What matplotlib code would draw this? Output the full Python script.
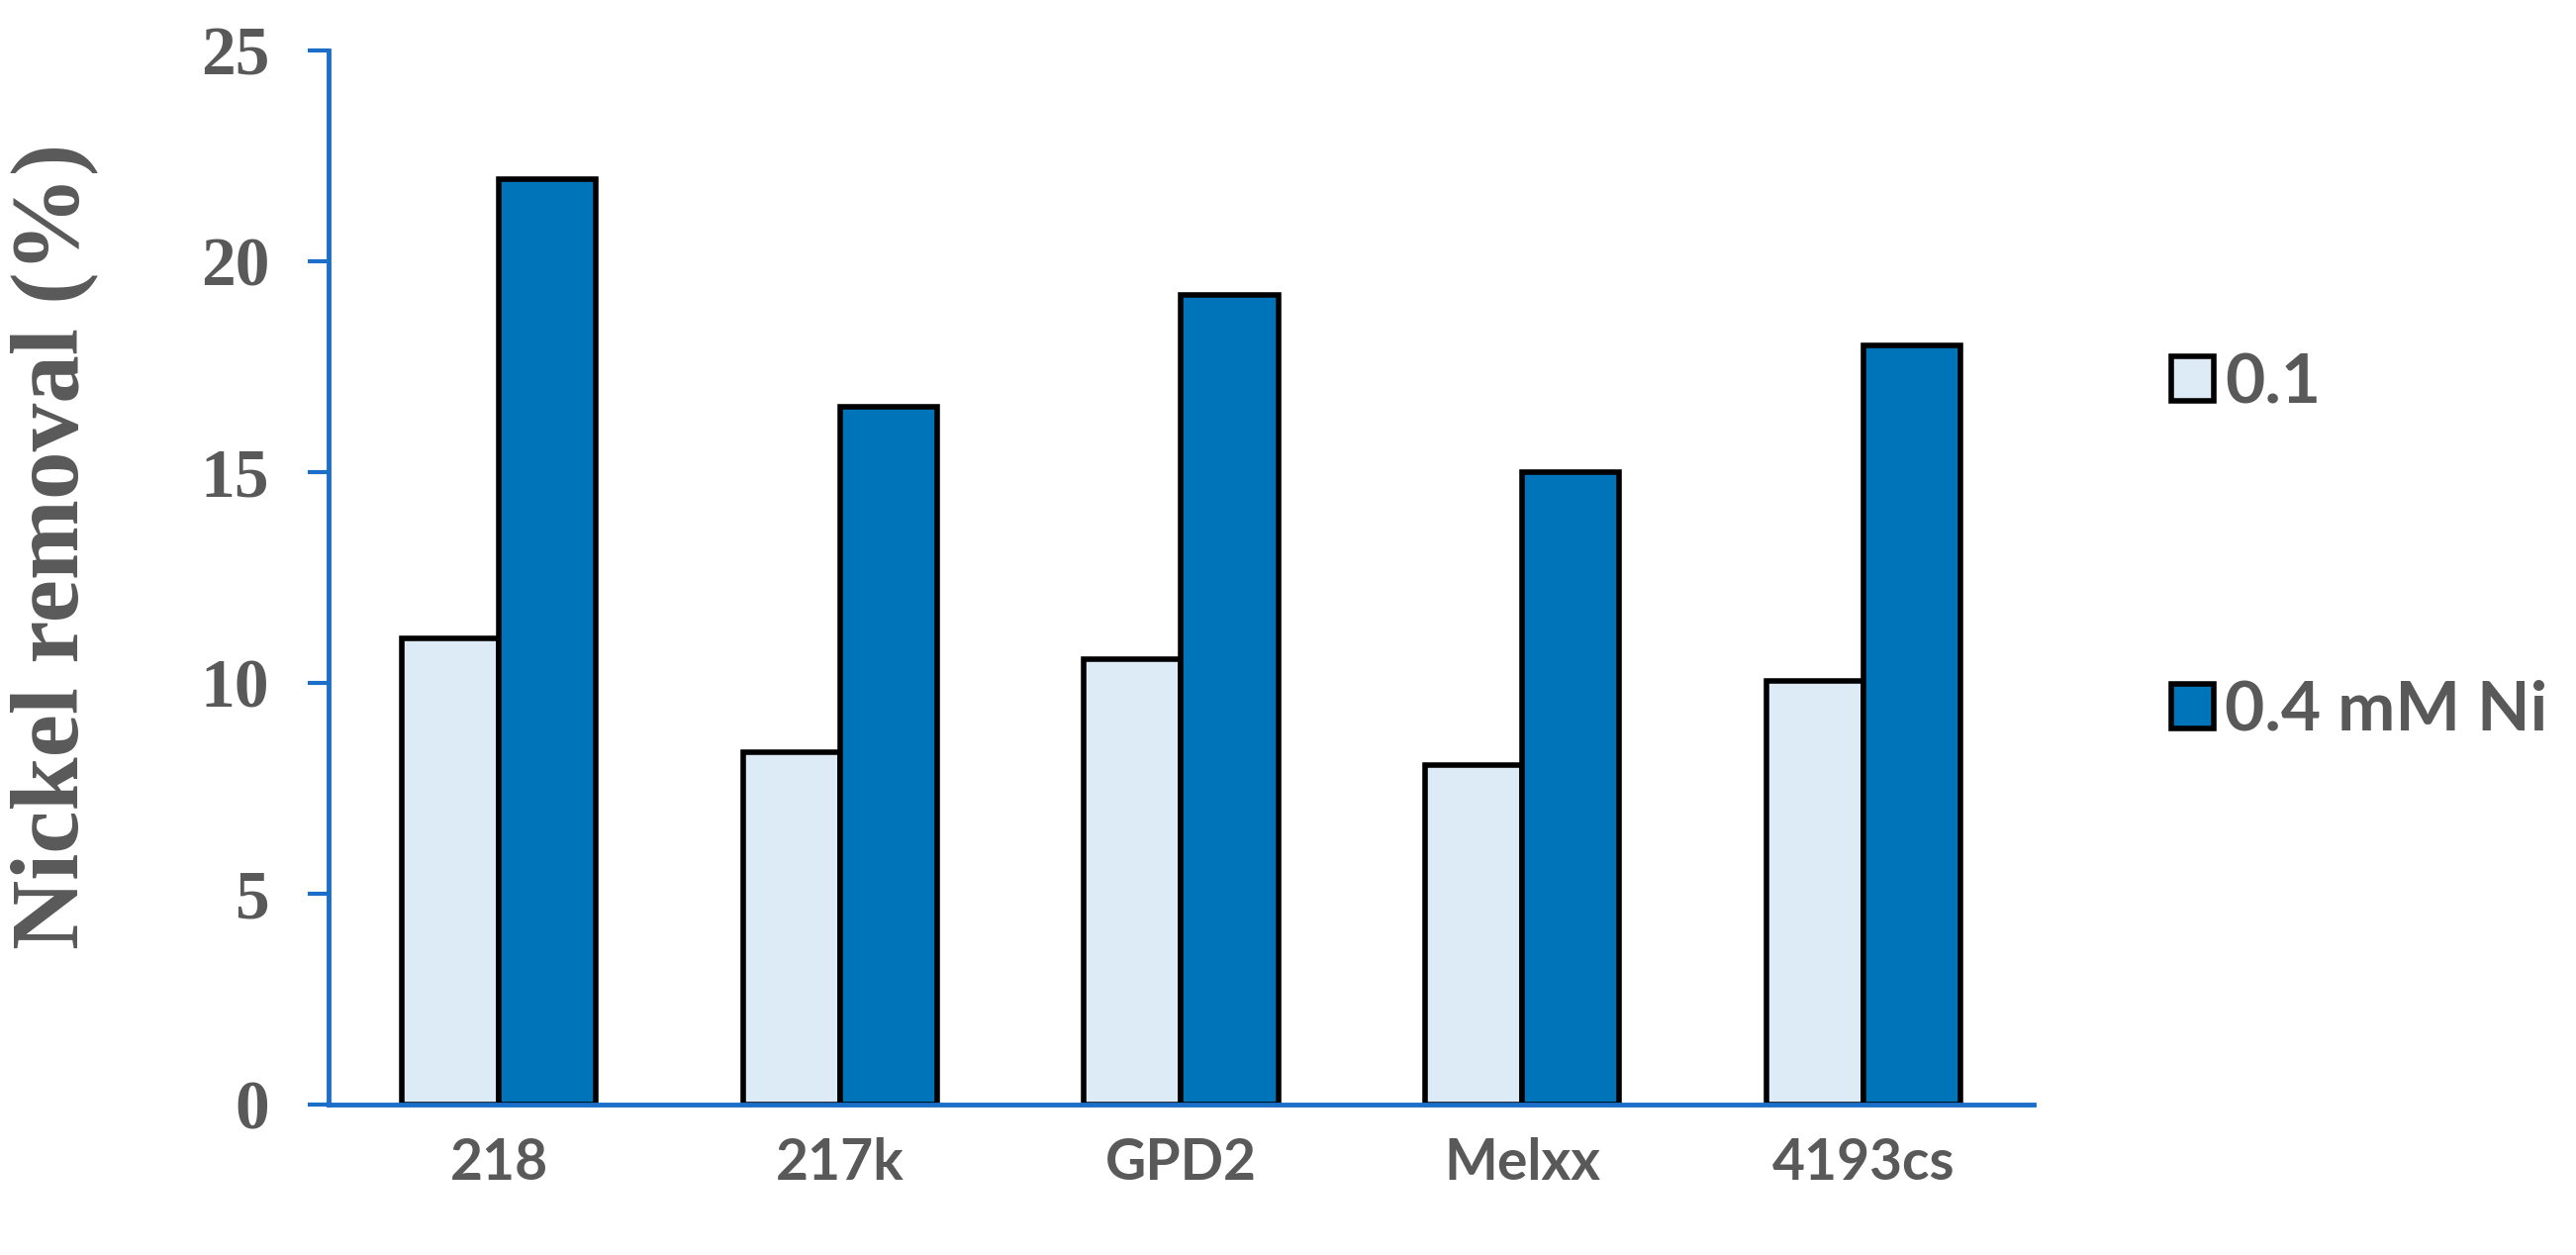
import numpy as np
import matplotlib
matplotlib.use("Agg")
import matplotlib.pyplot as plt

# data
strains = ["218", "217k", "GPD2", "Melxx", "4193cs"]
ni_01 = [11.05, 8.35, 10.55, 8.05, 10.05]
ni_04 = [21.95, 16.55, 19.2, 15.0, 18.0]
series_labels = ["0.1", "0.4 mM Ni"]

light = "#DDEBF7"
dark = "#0074B9"
axis_blue = "#1B6FC9"
grey = "#595959"

fig = plt.figure(figsize=(26.03, 12.68), dpi=100)
ax = fig.add_axes([0.1275, 0.12, 0.662, 0.84])

x = np.arange(len(strains))
w = 0.285
b1 = ax.bar(x - w / 2, ni_01, w, color=light, edgecolor="black", linewidth=4, label=series_labels[0])
b2 = ax.bar(x + w / 2, ni_04, w, color=dark, edgecolor="black", linewidth=4, label=series_labels[1])

ax.set_xlim(-0.5, len(strains) - 0.5)
ax.set_ylim(0, 25)
ax.set_yticks([0, 5, 10, 15, 20, 25])
ax.set_xticks(x)
ax.set_xticklabels(strains)

for s in ["top", "right"]:
    ax.spines[s].set_visible(False)
for s in ["left", "bottom"]:
    ax.spines[s].set_color(axis_blue)
    ax.spines[s].set_linewidth(3.5)

ax.tick_params(axis="y", direction="out", length=15, width=3, color=axis_blue, pad=28,
               labelsize=50, labelcolor=grey)
ax.tick_params(axis="x", length=0, pad=24, labelsize=41, labelcolor=grey)
for t in ax.get_yticklabels():
    t.set_fontfamily("Liberation Serif")
    t.set_fontweight("bold")
for t in ax.get_xticklabels():
    t.set_fontfamily("Lato")
    t.set_fontweight("bold")

fig.text(0.021, 0.565, "Nickel removal (%)", rotation=90, ha="center", va="center",
         fontsize=70, fontweight="bold", family="Liberation Serif", color=grey)

leg = fig.legend(handles=[b1, b2], labels=series_labels, loc="center left",
                 bbox_to_anchor=(0.843, 0.564), frameon=False, borderpad=0,
                 borderaxespad=0, handlelength=0.62, handleheight=0.62,
                 handletextpad=0.15, labelspacing=3.85,
                 prop={"family": "Lato", "weight": "bold", "size": 50})
for t in leg.get_texts():
    t.set_color(grey)

fig.savefig("out.png", dpi=100)
